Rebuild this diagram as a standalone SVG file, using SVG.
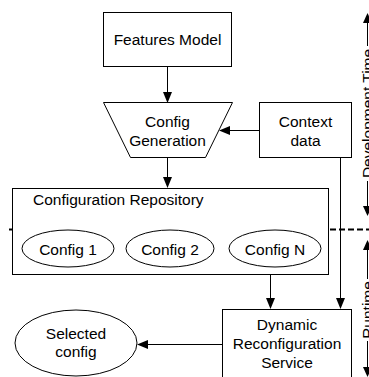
<svg xmlns="http://www.w3.org/2000/svg" width="369" height="377" viewBox="0 0 369 377">
<style>
.box{fill:#fff;stroke:#000;stroke-width:1}
.ln{fill:none;stroke:#000;stroke-width:1}
.hd{fill:#000;stroke:none}
.t{font-family:"Liberation Sans",Arial,sans-serif;font-size:15.5px;fill:#000;text-anchor:middle}
.tl{text-anchor:start}
</style>
<rect width="369" height="377" fill="#fff"/>
<g id="phase-divider">
<line x1="9" y1="229.5" x2="13" y2="229.5" stroke="#000" stroke-width="2"/>
<line x1="330" y1="229.5" x2="369" y2="229.5" stroke="#000" stroke-width="2" stroke-dasharray="6 3"/>
</g>
<g id="features-model">
<rect class="box" x="103.5" y="12.5" width="128" height="54"/>
<text class="t" x="167.5" y="44.5">Features Model</text>
</g>
<g id="config-generation">
<polygon class="box" points="103.5,102.5 232.5,102.5 205.5,157.5 130.5,157.5"/>
<text class="t" x="167.5" y="127">Config</text>
<text class="t" x="167.5" y="145.5">Generation</text>
</g>
<g id="context-data">
<rect class="box" x="259.5" y="102.5" width="92" height="55"/>
<text class="t" x="305.5" y="126.5">Context</text>
<text class="t" x="305.5" y="145.5">data</text>
</g>
<g id="configuration-repository">
<rect class="box" x="12.5" y="188.5" width="316" height="86"/>
<text class="t tl" x="33" y="204.5">Configuration Repository</text>
<g id="config-1">
<ellipse class="box" cx="68" cy="248.5" rx="46" ry="18.5"/>
<text class="t" x="68" y="255">Config 1</text>
</g>
<g id="config-2">
<ellipse class="box" cx="170" cy="248.5" rx="44" ry="18.5"/>
<text class="t" x="170" y="255">Config 2</text>
</g>
<g id="config-n">
<ellipse class="box" cx="275" cy="248.5" rx="46" ry="18.5"/>
<text class="t" x="275" y="255">Config N</text>
</g>
</g>
<g id="dynamic-reconfiguration-service">
<rect class="box" x="222.5" y="309.5" width="129" height="80"/>
<text class="t" x="287" y="330">Dynamic</text>
<text class="t" x="287" y="349">Reconfiguration</text>
<text class="t" x="287" y="367.5">Service</text>
</g>
<g id="selected-config">
<ellipse class="box" cx="76" cy="343" rx="61" ry="33"/>
<text class="t" x="76" y="339">Selected</text>
<text class="t" x="76" y="357">config</text>
</g>
<g id="connectors">
<line class="ln" x1="167.5" y1="66.5" x2="167.5" y2="92"/>
<polygon class="hd" points="163,92 172,92 167.5,103"/>
<line class="ln" x1="167.5" y1="157.5" x2="167.5" y2="177"/>
<polygon class="hd" points="163,177 172,177 167.5,188"/>
<line class="ln" x1="259.5" y1="130.5" x2="230" y2="130.5"/>
<polygon class="hd" points="230,126 230,135 219,130.5"/>
<line class="ln" x1="270.5" y1="274.5" x2="270.5" y2="298"/>
<polygon class="hd" points="266,298 275,298 270.5,309"/>
<line class="ln" x1="340.5" y1="157.5" x2="340.5" y2="298"/>
<polygon class="hd" points="336,298 345,298 340.5,309"/>
<line class="ln" x1="222.5" y1="344.5" x2="148" y2="344.5"/>
<polygon class="hd" points="148,340 148,349 137,344.5"/>
</g>
<g id="development-time">
<line class="ln" x1="367.5" y1="22" x2="367.5" y2="207"/>
<polygon class="hd" points="363,23 372,23 367.5,13"/>
<polygon class="hd" points="363,206 372,206 367.5,216"/>
<rect x="358" y="46" width="11" height="135" fill="#fff"/>
<text class="t" transform="translate(373,113.5) rotate(-90)">Development Time</text>
</g>
<g id="runtime">
<line class="ln" x1="367.5" y1="249" x2="367.5" y2="368"/>
<polygon class="hd" points="363,250 372,250 367.5,240"/>
<polygon class="hd" points="363,367 372,367 367.5,377"/>
<rect x="358" y="279" width="11" height="62" fill="#fff"/>
<text class="t" transform="translate(373,310) rotate(-90)">Runtime</text>
</g>
</svg>
